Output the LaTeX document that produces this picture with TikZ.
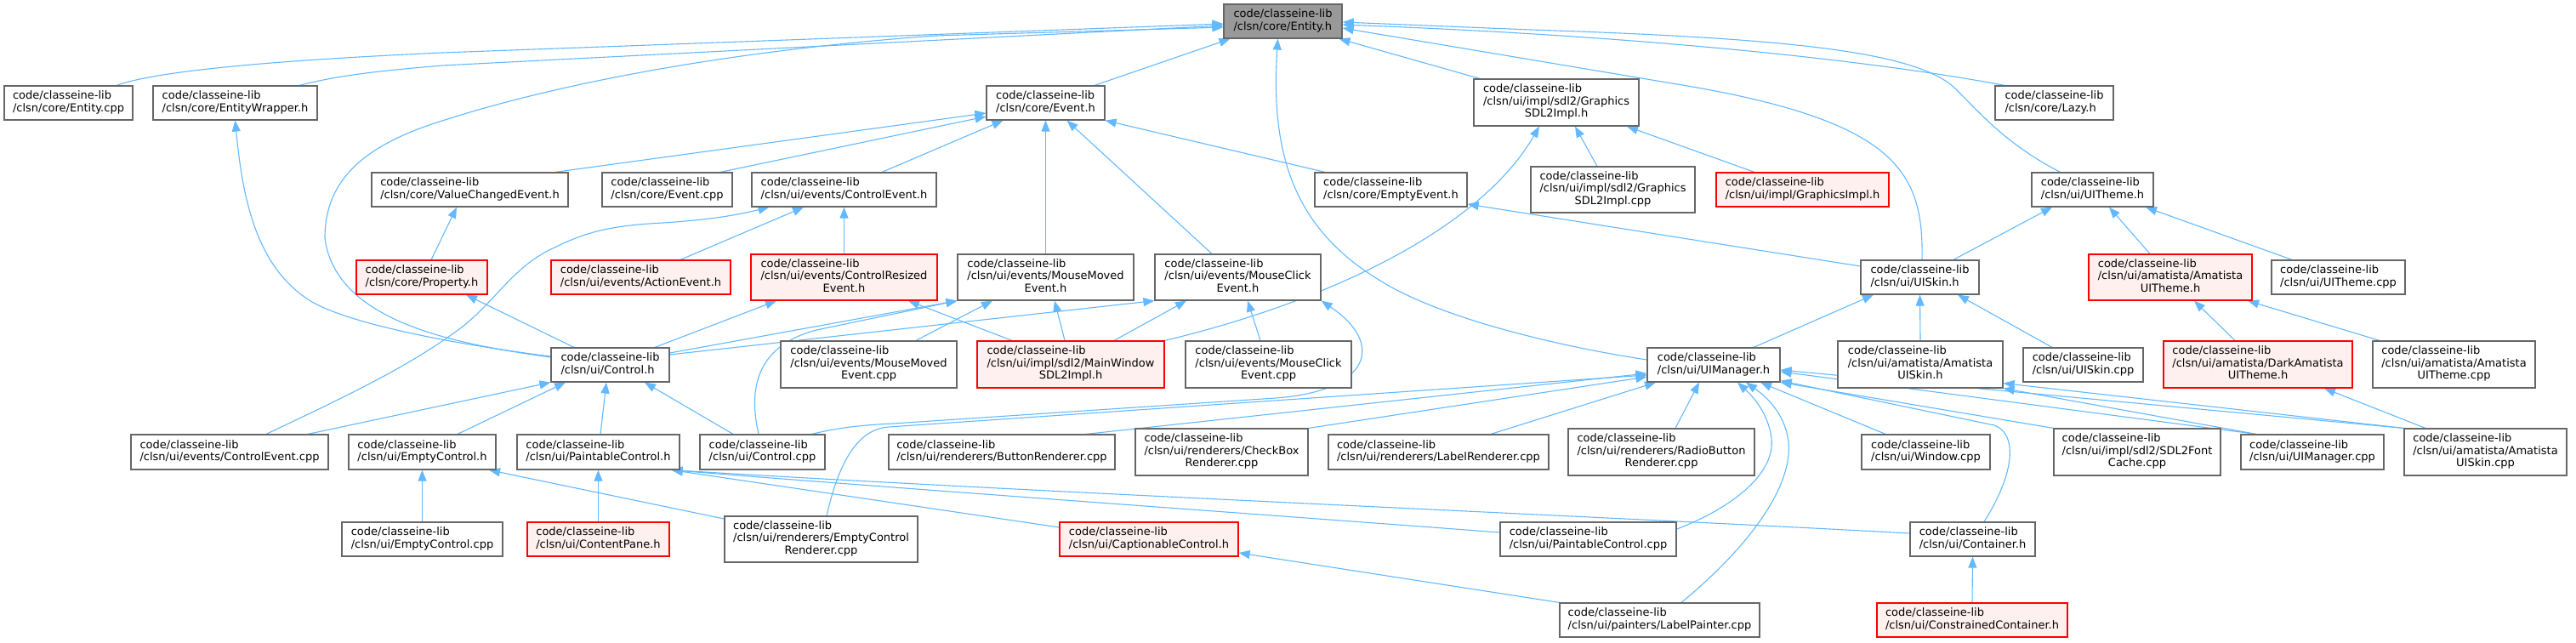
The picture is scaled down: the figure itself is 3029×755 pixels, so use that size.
\documentclass[tikz,border=0pt]{standalone}
\usepackage{fontspec}
\setmainfont{DejaVu Sans}
\usetikzlibrary{arrows.meta}
\definecolor{edgec}{HTML}{63B8FF}
\definecolor{nodeb}{HTML}{666666}
\definecolor{rootf}{HTML}{999999}
\definecolor{redf}{HTML}{FFF0F0}
\definecolor{redb}{HTML}{FF0000}
\newcommand{\twol}[2]{\begin{tabular}{@{}l@{}}#1\\#2\end{tabular}}
\newcommand{\threel}[3]{\begin{tabular}{@{}l@{}}#1\\#2\\\multicolumn{1}{@{}c@{}}{#3}\end{tabular}}
\pgfdeclarelayer{bg}
\pgfsetlayers{bg,main}
\tikzset{
  box/.style={draw=nodeb, fill=white, line width=1.2pt, inner sep=0pt, minimum height=40pt,
    font=\fontsize{13}{14.5}\selectfont},
  rootbox/.style={box, fill=rootf},
  redbox/.style={box, draw=redb, fill=redf},
  bw/.style={minimum width=#1pt},
  bh/.style={minimum height=#1pt},
  edge/.style={draw=edgec, line width=1.1pt, -{Triangle[length=13pt,width=10pt]}},
}
\begin{document}
\begin{tikzpicture}[x=1pt,y=-1pt]
\useasboundingbox (0,0) rectangle (3029,755);
% row 1
\node[rootbox,bw=139] (root) at (1508.5,25) {\twol{code/classeine-lib}{/clsn/core/Entity.h}};
% row 2
\node[box,bw=151] (ecpp) at (80.5,121) {\twol{code/classeine-lib}{/clsn/core/Entity.cpp}};
\node[box,bw=193] (ewrap) at (276.5,121) {\twol{code/classeine-lib}{/clsn/core/EntityWrapper.h}};
\node[box,bw=139] (eventh) at (1229.5,121) {\twol{code/classeine-lib}{/clsn/core/Event.h}};
\node[box,bw=194,bh=55] (gsdlh) at (1830,120.5) {\threel{code/classeine-lib}{/clsn/ui/impl/sdl2/Graphics}{SDL2Impl.h}};
\node[box,bw=139] (lazy) at (2415.5,121) {\twol{code/classeine-lib}{/clsn/core/Lazy.h}};
% row 3
\node[box,bw=231] (vce) at (552.5,223) {\twol{code/classeine-lib}{/clsn/core/ValueChangedEvent.h}};
\node[box,bw=153] (eventcpp) at (784.5,223) {\twol{code/classeine-lib}{/clsn/core/Event.cpp}};
\node[box,bw=217] (ctrlevh) at (992.5,223) {\twol{code/classeine-lib}{/clsn/ui/events/ControlEvent.h}};
\node[box,bw=179] (emptyev) at (1635.5,223) {\twol{code/classeine-lib}{/clsn/core/EmptyEvent.h}};
\node[box,bw=193,bh=54] (gsdlcpp) at (1896.5,223) {\threel{code/classeine-lib}{/clsn/ui/impl/sdl2/Graphics}{SDL2Impl.cpp}};
\node[redbox,bw=203] (gimpl) at (2119.5,223) {\twol{code/classeine-lib}{/clsn/ui/impl/GraphicsImpl.h}};
\node[box,bw=143] (uitheme) at (2460.5,223) {\twol{code/classeine-lib}{/clsn/ui/UITheme.h}};
% row 4
\node[redbox,bw=154] (prop) at (496,326) {\twol{code/classeine-lib}{/clsn/core/Property.h}};
\node[redbox,bw=211] (action) at (753.5,326) {\twol{code/classeine-lib}{/clsn/ui/events/ActionEvent.h}};
\node[redbox,bw=219,bh=54] (resized) at (992.5,326) {\threel{code/classeine-lib}{/clsn/ui/events/ControlResized}{Event.h}};
\node[box,bw=207,bh=54] (mmoved) at (1229.5,326) {\threel{code/classeine-lib}{/clsn/ui/events/MouseMoved}{Event.h}};
\node[box,bw=195,bh=54] (mclick) at (1455.5,326) {\threel{code/classeine-lib}{/clsn/ui/events/MouseClick}{Event.h}};
\node[box,bw=139] (uiskin) at (2257.5,326) {\twol{code/classeine-lib}{/clsn/ui/UISkin.h}};
\node[redbox,bw=192,bh=54] (amtheme) at (2552,326) {\threel{code/classeine-lib}{/clsn/ui/amatista/Amatista}{UITheme.h}};
\node[box,bw=157] (themecpp) at (2749.5,326) {\twol{code/classeine-lib}{/clsn/ui/UITheme.cpp}};
% row 5
\node[box,bw=139] (control) at (717.5,429) {\twol{code/classeine-lib}{/clsn/ui/Control.h}};
\node[box,bw=207,bh=55] (mmcpp) at (1021.5,428.5) {\threel{code/classeine-lib}{/clsn/ui/events/MouseMoved}{Event.cpp}};
\node[redbox,bw=220,bh=55] (mainwin) at (1259,428.5) {\threel{code/classeine-lib}{/clsn/ui/impl/sdl2/MainWindow}{SDL2Impl.h}};
\node[box,bw=195,bh=55] (mccpp) at (1491.5,428.5) {\threel{code/classeine-lib}{/clsn/ui/events/MouseClick}{Event.cpp}};
\node[box,bw=156] (uimgr) at (2015,429) {\twol{code/classeine-lib}{/clsn/ui/UIManager.h}};
\node[box,bw=194,bh=55] (amskin) at (2258,428.5) {\threel{code/classeine-lib}{/clsn/ui/amatista/Amatista}{UISkin.h}};
\node[box,bw=141] (skincpp) at (2449.5,429) {\twol{code/classeine-lib}{/clsn/ui/UISkin.cpp}};
\node[redbox,bw=222,bh=55] (darkth) at (2655,428.5) {\threel{code/classeine-lib}{/clsn/ui/amatista/DarkAmatista}{UITheme.h}};
\node[box,bw=191,bh=55] (amthcpp) at (2885.5,428.5) {\threel{code/classeine-lib}{/clsn/ui/amatista/Amatista}{UITheme.cpp}};
% row 6
\node[box,bw=232,bh=41] (cecpp) at (270,531.5) {\twol{code/classeine-lib}{/clsn/ui/events/ControlEvent.cpp}};
\node[box,bw=173,bh=41] (emptyc) at (496.5,531.5) {\twol{code/classeine-lib}{/clsn/ui/EmptyControl.h}};
\node[box,bw=191,bh=41] (paintc) at (703.5,531.5) {\twol{code/classeine-lib}{/clsn/ui/PaintableControl.h}};
\node[box,bw=147,bh=41] (ctrlcpp) at (896.5,531.5) {\twol{code/classeine-lib}{/clsn/ui/Control.cpp}};
\node[box,bw=266,bh=41] (button) at (1178,531.5) {\twol{code/classeine-lib}{/clsn/ui/renderers/ButtonRenderer.cpp}};
\node[box,bw=203,bh=55] (checkbox) at (1436.5,531.5) {\threel{code/classeine-lib}{/clsn/ui/renderers/CheckBox}{Renderer.cpp}};
\node[box,bw=259,bh=41] (labelr) at (1691.5,531.5) {\twol{code/classeine-lib}{/clsn/ui/renderers/LabelRenderer.cpp}};
\node[box,bw=219,bh=55] (radio) at (1953.5,531.5) {\threel{code/classeine-lib}{/clsn/ui/renderers/RadioButton}{Renderer.cpp}};
\node[box,bw=151,bh=41] (window) at (2264.5,531.5) {\twol{code/classeine-lib}{/clsn/ui/Window.cpp}};
\node[box,bw=196,bh=55] (fontc) at (2513,531.5) {\threel{code/classeine-lib}{/clsn/ui/impl/sdl2/SDL2Font}{Cache.cpp}};
\node[box,bw=168,bh=41] (uimgrcpp) at (2719,531.5) {\twol{code/classeine-lib}{/clsn/ui/UIManager.cpp}};
\node[box,bw=191,bh=55] (amskcpp) at (2922.5,531.5) {\threel{code/classeine-lib}{/clsn/ui/amatista/Amatista}{UISkin.cpp}};
% row 7
\node[box,bw=189] (emptycpp) at (496.5,634) {\twol{code/classeine-lib}{/clsn/ui/EmptyControl.cpp}};
\node[redbox,bw=167] (pane) at (703.5,634) {\twol{code/classeine-lib}{/clsn/ui/ContentPane.h}};
\node[box,bw=227,bh=54] (ecr) at (965.5,634) {\threel{code/classeine-lib}{/clsn/ui/renderers/EmptyControl}{Renderer.cpp}};
\node[redbox,bw=210] (capt) at (1351,634) {\twol{code/classeine-lib}{/clsn/ui/CaptionableControl.h}};
\node[box,bw=207] (pccpp) at (1867.5,634) {\twol{code/classeine-lib}{/clsn/ui/PaintableControl.cpp}};
\node[box,bw=147] (cont) at (2319.5,634) {\twol{code/classeine-lib}{/clsn/ui/Container.h}};
% row 8
\node[box,bw=235] (lpaint) at (1951.5,729) {\twol{code/classeine-lib}{/clsn/ui/painters/LabelPainter.cpp}};
\node[redbox,bw=224] (constr) at (2319,729) {\twol{code/classeine-lib}{/clsn/ui/ConstrainedContainer.h}};

\begin{pgfonlayer}{bg}
% into Entity.h
\draw[edge] ([xshift=56.5pt]ecpp.north) .. controls (180,85) and (300,72) .. (520,62) -- ([yshift=-3pt]root.west);
\draw[edge] ([xshift=75.5pt]ewrap.north) .. controls (400,88) and (450,83) .. (520,77) -- ([yshift=-5pt]root.west);
\draw[edge] ([yshift=9pt]control.west) .. controls (540,405) and (395,380) .. (382,280) .. controls (382,210) and (430,170) .. (520,142) .. controls (650,100) and (850,60) .. (1100,42) -- ([yshift=-7pt]root.west);
\draw[edge] ([xshift=57.5pt]eventh.north) -- ([xshift=-62pt]root.south);
\draw[edge] ([yshift=6pt]uimgr.west) .. controls (1850,410) and (1700,378) .. (1623,330) .. controls (1520,268) and (1494,180) .. ([xshift=-6pt]root.south);
\draw[edge] ([xshift=-90pt]gsdlh.north) -- ([xshift=66pt]root.south);
\draw[edge] ([xshift=-58.5pt]lazy.north) .. controls (2250,80) and (2000,45) .. ([yshift=-4pt]root.east);
\draw[edge] ([xshift=-38pt]uitheme.north) .. controls (2360,170) and (2330,135) .. (2300,105) .. controls (2255,60) and (2100,45) .. (1800,35) -- ([yshift=-1pt]root.east);
\draw[edge] ([xshift=2.5pt]uiskin.north) .. controls (2262,200) and (2230,140) .. (1960,97) -- ([yshift=-8pt]root.east);
% into Event.h
\draw[edge] ([xshift=100pt]vce.north) -- ([yshift=-12pt]eventh.west);
\draw[edge] ([xshift=62.5pt]eventcpp.north) -- ([yshift=-16pt]eventh.west);
\draw[edge] ([xshift=44.5pt]ctrlevh.north) -- ([xshift=-50pt]eventh.south);
\draw[edge] (mmoved.north) -- (eventh.south);
\draw[edge] ([xshift=-30.5pt]mclick.north) -- ([xshift=25pt]eventh.south);
\draw[edge] ([xshift=-77.5pt]emptyev.north) -- (eventh.south east);
% others upper
\draw[edge] ([xshift=11pt]prop.north) -- ([xshift=-15.5pt]vce.south);
\draw[edge] ([xshift=-42.5pt]control.north) -- ([xshift=52pt]prop.south);
\draw[edge] ([xshift=43pt]cecpp.north) .. controls (420,460) and (480,430) .. (533,392) .. controls (580,360) and (600,315) .. (650,292) .. controls (690,272) and (720,265) .. (780,262) .. controls (840,258) and (870,252) .. ([xshift=-88pt]ctrlevh.south);
\draw[edge] ([xshift=46.5pt]action.north) -- ([xshift=-47.5pt]ctrlevh.south);
\draw[edge] (resized.north) -- (ctrlevh.south);
\draw[edge] ([yshift=10pt]control.west) .. controls (560,408) and (420,385) .. (367,355) .. controls (300,315) and (285,230) .. (ewrap.south);
\draw[edge] ([xshift=52.5pt]control.north) -- ([xshift=-79.5pt]resized.south);
\draw[edge] ([xshift=-69pt]mainwin.north) -- ([xshift=75.5pt]resized.south);
\draw[edge] ([yshift=14pt]control.east) -- (mmoved.south west);
\draw[edge] ([xshift=-4.5pt]ctrlcpp.north) .. controls (878,450) and (895,405) .. (960,388) -- (mmoved.south west);
\draw[edge] ([xshift=55.5pt]mmcpp.north) -- ([xshift=-62.5pt]mmoved.south);
\draw[edge] ([xshift=-7pt]mainwin.north) -- ([xshift=10.5pt]mmoved.south);
\draw[edge] ([yshift=12pt]control.east) -- (mclick.south west);
\draw[edge] ([xshift=58pt]ctrlcpp.north) .. controls (985,503) and (1010,500) .. (1050,498) -- (1500,468) .. controls (1610,460) and (1630,405) .. (mclick.south east);
\draw[edge] ([xshift=-9.5pt]mccpp.north) -- ([xshift=11.5pt]mclick.south);
\draw[edge] ([xshift=51pt]mainwin.north) -- ([xshift=-60.5pt]mclick.south);
\draw[edge] (mainwin.north east) .. controls (1560,355) and (1740,270) .. ([xshift=-20pt]gsdlh.south);
\draw[edge] ([xshift=-18.5pt]gsdlcpp.north) -- ([xshift=22pt]gsdlh.south);
\draw[edge] ([xshift=-56.5pt]gimpl.north) -- ([xshift=83pt]gsdlh.south);
\draw[edge] ([yshift=13pt]uiskin.west) -- ([yshift=-17pt]emptyev.east);
\draw[edge] ([xshift=39.5pt]uiskin.north) -- ([xshift=-47.5pt]uitheme.south);
\draw[edge] ([xshift=-24pt]amtheme.north) -- ([xshift=19.5pt]uitheme.south);
\draw[edge] ([xshift=-54.5pt]themecpp.north) -- ([xshift=62.5pt]uitheme.south);
\draw[edge] ([xshift=-27pt]darkth.north) -- ([xshift=28pt]amtheme.south);
\draw[edge] ([xshift=-87.5pt]amthcpp.north) -- ([xshift=91pt]amtheme.south);
\draw[edge] (amskin.north) -- (uiskin.south);
\draw[edge] ([xshift=-36.5pt]skincpp.north) -- ([xshift=44.5pt]uiskin.south);
\draw[edge] ([xshift=47pt]uimgr.north) -- ([xshift=-54.5pt]uiskin.south);
% into Control.h
\draw[edge] ([xshift=92pt]cecpp.north) -- (control.south west);
\draw[edge] ([xshift=41.5pt]emptyc.north) -- ([xshift=-52.5pt]control.south);
\draw[edge] ([xshift=2.5pt]paintc.north) -- ([xshift=-4.5pt]control.south);
\draw[edge] ([xshift=-34.5pt]ctrlcpp.north) -- ([xshift=40.5pt]control.south);
% lower part
\draw[edge] (emptycpp.north) -- (emptyc.south);
\draw[edge] ([yshift=24pt]ecr.west) -- ([xshift=78.5pt]emptyc.south);
\draw[edge] (pane.north) -- (paintc.south);
\draw[edge] ([yshift=14pt]capt.west) -- ([xshift=-10pt]paintc.south east);
\draw[edge] ([yshift=8pt]pccpp.west) .. controls (1500,606) and (1000,570) .. ([xshift=-10pt]paintc.south east);
\draw[edge] ([yshift=7pt]cont.west) .. controls (1900,608) and (1200,578) .. ([xshift=-10pt]paintc.south east);
% into UIManager.h
\draw[edge] ([xshift=6.5pt]ecr.north) .. controls (985,550) and (1005,505) .. (1045,502) -- ([yshift=-12pt]uimgr.west);
\draw[edge] ([xshift=99pt]button.north) -- ([yshift=-10pt]uimgr.west);
\draw[edge] (checkbox.north east) -- ([yshift=-14pt]uimgr.west);
\draw[edge] ([xshift=61.5pt]labelr.north) -- ([xshift=-68pt]uimgr.south);
\draw[edge] ([xshift=16.5pt]radio.north) -- ([xshift=-17pt]uimgr.south);
\draw[edge] ([xshift=-47.5pt]window.north) -- ([xshift=55pt]uimgr.south);
\draw[edge] (fontc.north west) -- (uimgr.south east);
\draw[edge] ([xshift=-66pt]uimgrcpp.north) -- ([yshift=-8pt]uimgr.east);
\draw[edge] (amskcpp.north west) -- ([yshift=-6pt]uimgr.east);
\draw[edge] ([xshift=13.5pt]cont.north) .. controls (2370,555) and (2372,510) .. (2345,500) -- ([yshift=2pt]uimgr.south east);
\draw[edge] ([yshift=12pt]pccpp.east) .. controls (2030,600) and (2088,560) .. (2083,515) .. controls (2079,485) and (2060,465) .. ([xshift=28pt]uimgr.south);
\draw[edge] ([xshift=25.5pt]lpaint.north) .. controls (2060,640) and (2108,570) .. (2103,520) .. controls (2099,485) and (2075,465) .. ([xshift=38pt]uimgr.south);
\draw[edge] (lpaint.north west) -- ([yshift=-16pt]capt.east);
\draw[edge] ([xshift=-66pt]uimgrcpp.north) -- (amskin.south east);
\draw[edge] (amskcpp.north west) -- ([yshift=6pt]amskin.south east);
\draw[edge] ([xshift=-70.5pt]amskcpp.north) -- ([xshift=78pt]darkth.south);
\draw[edge] (constr.north) -- (cont.south);
\end{pgfonlayer}
\end{tikzpicture}
\end{document}
